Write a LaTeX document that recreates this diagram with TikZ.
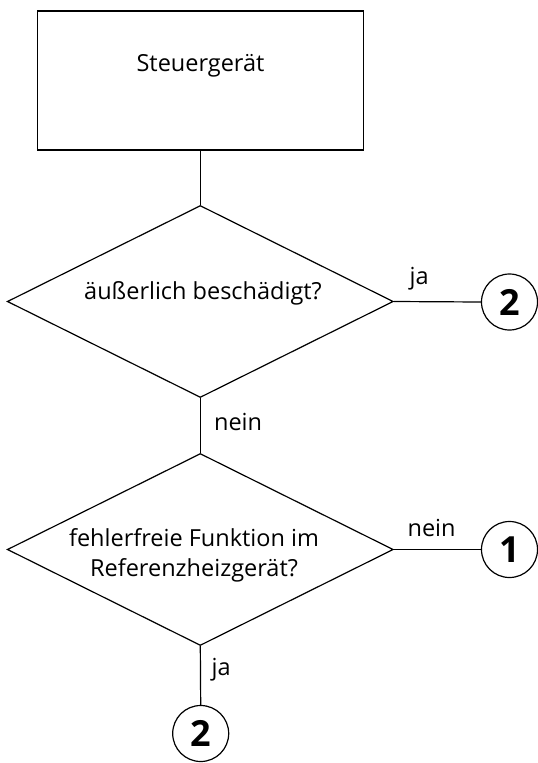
\documentclass[tikz,border=0pt]{standalone}
\usepackage{fontspec}
\setmainfont{Open Sans}
\usetikzlibrary{shapes.geometric}
\begin{document}
\begin{tikzpicture}[x=1pt,y=-1pt,
  line width=1.2pt,
  txt/.style={font=\fontsize{23.5}{28}\selectfont, inner sep=0pt, anchor=base},
  lbl/.style={font=\fontsize{23.5}{28}\selectfont, inner sep=0pt, anchor=base west},
  boxnode/.style={draw, rectangle, minimum width=326pt, minimum height=139pt, inner sep=0pt},
  decision/.style={draw, diamond, minimum width=386pt, minimum height=192pt, inner sep=0pt},
  connector/.style={draw, circle, minimum size=56pt, inner sep=0pt, font=\fontsize{36}{40}\selectfont\bfseries}
]
\useasboundingbox (0,0) rectangle (538,763);

\node[boxnode] (box) at (200.3,80.5) {};
\node[txt] (boxtext) at (200.5,71) {Steuergerät};

\node[decision] (d1) at (200.3,301.5) {};
\node[txt] (d1text) at (203,299.5) {äußerlich beschädigt?};

\node[decision] (d2) at (200.3,549.5) {};
\node[txt] (d2texta) at (194,546) {fehlerfreie Funktion im};
\node[txt] (d2textb) at (194,576) {Referenzheizgerät?};

\node[connector] (c2a) at (509.5,302) {2};
\node[connector] (c1) at (509.5,549.5) {1};
\node[connector] (c2b) at (200.7,733.5) {2};

\draw (box.south) -- (d1.north);
\draw (d1.east) -- (c2a.west);
\draw (d1.south) -- (d2.north);
\draw (d2.east) -- (c1.west);
\draw (d2.south) -- (c2b.north);

\node[lbl] (ja1) at (409,284) {ja};
\node[lbl] (nein1) at (213.5,430) {nein};
\node[lbl] (nein2) at (407,536) {nein};
\node[lbl] (ja2) at (211,675) {ja};
\end{tikzpicture}
\end{document}
